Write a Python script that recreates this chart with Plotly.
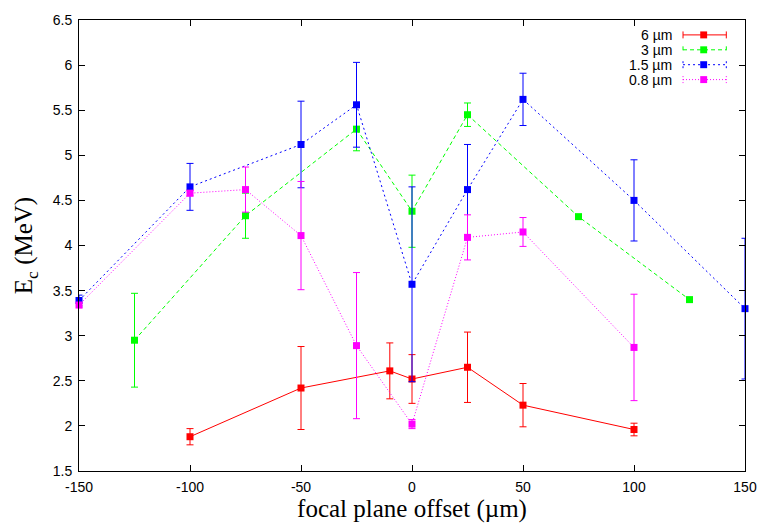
import plotly.graph_objects as go

# ---- data ----
x_red = [-100, -50, -10, 0, 25, 50, 100]
y_red = [1.88, 2.42, 2.61, 2.52, 2.65, 2.23, 1.96]
e_red = [0.09, 0.46, 0.31, 0.27, 0.39, 0.24, 0.07]

x_green = [-125, -75, -25, 0, 25, 75, 125]
y_green = [2.95, 4.33, 5.29, 4.38, 5.45, 4.32, 3.40]
e_green = [0.52, 0.25, 0.24, 0.40, 0.13, 0.0, 0.0]

x_blue = [-150, -100, -50, -25, 0, 25, 50, 100, 150]
y_blue = [3.39, 4.65, 5.12, 5.56, 3.57, 4.62, 5.62, 4.50, 3.30]
e_blue = [0.06, 0.26, 0.48, 0.47, 1.08, 0.50, 0.29, 0.45, 0.78]

x_mag = [-150, -100, -75, -50, -25, 0, 25, 50, 100]
y_mag = [3.34, 4.58, 4.62, 4.11, 2.89, 2.02, 4.09, 4.15, 2.87]
e_mag = [0.03, 0.03, 0.25, 0.60, 0.81, 0.05, 0.25, 0.16, 0.59]

series_names = ["6 µm", "3 µm", "1.5 µm", "0.8 µm"]
x_ticks = [-150, -100, -50, 0, 50, 100, 150]
y_ticks = [1.5, 2, 2.5, 3, 3.5, 4, 4.5, 5, 5.5, 6, 6.5]

# ---- styles ----
colors = ["#ff0000", "#00ff00", "#0000ff", "#ff00ff"]
dashes = ["solid", "4px,3px", "2px,3px", "1px,2px"]
data = [(x_red, y_red, e_red), (x_green, y_green, e_green),
        (x_blue, y_blue, e_blue), (x_mag, y_mag, e_mag)]

W, H = 769, 528
ML, MR, MT, MB = 79, 13, 17, 57
PW, PH = W - ML - MR, H - MT - MB

fig = go.Figure()
for (xs, ys, es), name, c, d in zip(data, series_names, colors, dashes):
    fig.add_trace(go.Scatter(
        x=xs, y=ys, name=name, mode="lines+markers",
        line=dict(color=c, width=1, dash=d),
        marker=dict(symbol="square", size=7, color=c),
        error_y=dict(type="data", array=es, visible=True, color=c,
                     thickness=1, width=3.5),
        cliponaxis=False, showlegend=False))

# ---- manual gnuplot-style legend (text left of sample) ----
def px(xp):
    return (xp - ML) / PW

def py(yp):
    return (MT + PH - yp) / PH

shapes = []
annotations = []
rows = [32, 47, 62, 77]
for name, c, d, ry in zip(series_names, colors, dashes, rows):
    annotations.append(dict(x=px(684), y=py(ry), xref="paper", yref="paper",
                            text=name, showarrow=False, xanchor="right",
                            yanchor="middle",
                            font=dict(family="Liberation Sans", size=14, color="black")))
    shapes.append(dict(type="line", xref="paper", yref="paper",
                       x0=px(693), x1=px(737), y0=py(ry), y1=py(ry),
                       line=dict(color=c, width=1, dash=d)))
    for ex in (693, 737):
        shapes.append(dict(type="line", xref="paper", yref="paper",
                           x0=px(ex), x1=px(ex), y0=py(ry - 3.5), y1=py(ry + 3.5),
                           line=dict(color=c, width=1, dash=d)))
    shapes.append(dict(type="rect", xref="paper", yref="paper",
                       x0=px(714 - 3.5), x1=px(714 + 3.5),
                       y0=py(ry - 3.5), y1=py(ry + 3.5),
                       line=dict(width=0), fillcolor=c))

axis_common = dict(showgrid=False, zeroline=False, showline=True, mirror="ticks",
                   linecolor="black", linewidth=1, ticks="inside", ticklen=6,
                   tickcolor="black", ticklabelstandoff=3,
                   tickfont=dict(family="Liberation Sans", size=14, color="black"))

fig.update_layout(
    width=W, height=H,
    margin=dict(l=ML, r=MR, t=MT, b=MB),
    paper_bgcolor="white", plot_bgcolor="white",
    xaxis=dict(range=[-150, 150], tickvals=x_ticks,
               ticktext=[str(v) for v in x_ticks],
               title=dict(text="focal plane offset (µm)", standoff=4,
                          font=dict(family="Liberation Serif", size=25, color="black")),
               **axis_common),
    yaxis=dict(range=[1.5, 6.5], tickvals=y_ticks,
               ticktext=[("%g" % v) for v in y_ticks],
               title=dict(text="E<sub>c</sub> (MeV)", standoff=12,
                          font=dict(family="Liberation Serif", size=25, color="black")),
               **axis_common),
    shapes=shapes, annotations=annotations,
)

fig.write_html("out.html")
